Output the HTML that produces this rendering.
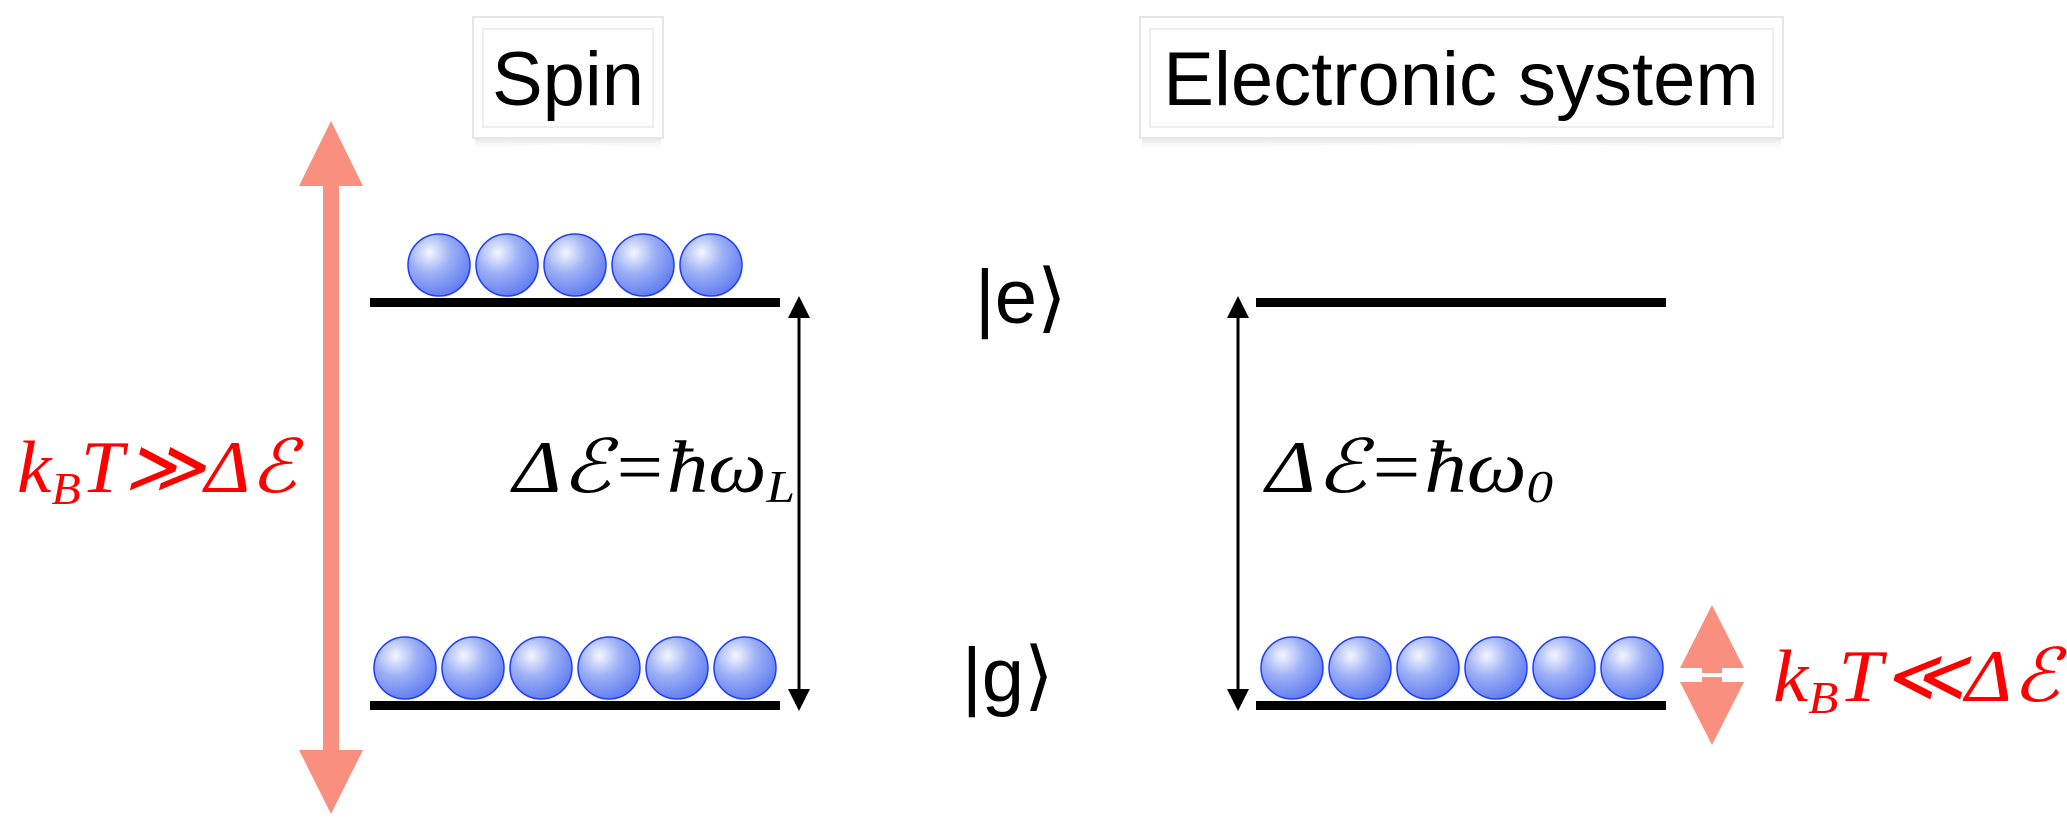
<!DOCTYPE html>
<html><head><meta charset="utf-8"><style>
html,body{margin:0;padding:0;background:#fff;}
svg{display:block;}
.t{font-family:"Liberation Sans",Arial,sans-serif;}
.m{font-family:"Liberation Serif","DejaVu Serif",serif;font-style:italic;}
</style></head><body>
<svg width="2067" height="825" viewBox="0 0 2067 825" xmlns="http://www.w3.org/2000/svg">
<defs>
<radialGradient id="b" cx="0.35" cy="0.3" r="0.75">
<stop offset="0" stop-color="#f4f6ff"/>
<stop offset="0.45" stop-color="#9db0f6"/>
<stop offset="1" stop-color="#5f7bf0"/>
</radialGradient>
<linearGradient id="sh" x1="0" y1="0" x2="0" y2="1">
<stop offset="0" stop-color="#999" stop-opacity="0.8"/>
<stop offset="1" stop-color="#fff" stop-opacity="0"/>
</linearGradient>
<g id="ball"><ellipse rx="31" ry="31" fill="url(#b)" stroke="#1f3cff" stroke-width="1.5"/></g>
</defs>

<path d="M475 136 Q568 118 661 136 L661 152 Q568 136 475 152 Z" fill="url(#sh)"/>
<rect x="473" y="17" width="190" height="121" fill="#fff" stroke="#e6e6e6" stroke-width="2"/>
<rect x="483" y="29" width="170" height="98" fill="#fff" stroke="#e8e8e8" stroke-width="1.5"/>
<text class="t" x="568" y="105" font-size="76" text-anchor="middle">Spin</text>

<path d="M1142 136 Q1461 118 1781 136 L1781 152 Q1461 136 1142 152 Z" fill="url(#sh)"/>
<rect x="1140" y="17" width="643" height="121" fill="#fff" stroke="#e6e6e6" stroke-width="2"/>
<rect x="1150" y="29" width="623" height="98" fill="#fff" stroke="#e8e8e8" stroke-width="1.5"/>
<text class="t" x="1461" y="105" font-size="76" text-anchor="middle">Electronic system</text>

<rect x="323" y="184" width="16" height="568" fill="#f98f7f"/>
<polygon points="331,121 363,186 299,186" fill="#f98f7f"/>
<polygon points="331,814 363,750 299,750" fill="#f98f7f"/>
<text class="m" x="17" y="492" font-size="74" fill="#ff0000" textLength="280" lengthAdjust="spacingAndGlyphs">k<tspan font-size="46" dy="12">B</tspan><tspan dy="-12">T≫Δℰ</tspan></text>

<rect x="370" y="298" width="410" height="9" fill="#000"/>
<rect x="370" y="701" width="410" height="9" fill="#000"/>
<use href="#ball" x="439" y="265"/><use href="#ball" x="507" y="265"/><use href="#ball" x="575" y="265"/><use href="#ball" x="643" y="265"/><use href="#ball" x="711" y="265"/>
<use href="#ball" x="405" y="668"/><use href="#ball" x="473" y="668"/><use href="#ball" x="541" y="668"/><use href="#ball" x="609" y="668"/><use href="#ball" x="677" y="668"/><use href="#ball" x="745" y="668"/>
<line x1="799" y1="312" x2="799" y2="696" stroke="#000" stroke-width="3"/>
<polygon points="799,296 810,318 788,318" fill="#000"/>
<polygon points="799,711 810,689 788,689" fill="#000"/>
<text class="m" x="513" y="492" font-size="74" textLength="282" lengthAdjust="spacingAndGlyphs">Δℰ=ħω<tspan font-size="46" dy="10">L</tspan></text>

<text class="t" x="975" y="323" font-size="76">|e⟩</text>
<text class="t" x="962" y="701" font-size="76">|g⟩</text>

<rect x="1256" y="298" width="410" height="9" fill="#000"/>
<rect x="1256" y="701" width="410" height="9" fill="#000"/>
<line x1="1238" y1="312" x2="1238" y2="696" stroke="#000" stroke-width="3"/>
<polygon points="1238,296 1249,318 1227,318" fill="#000"/>
<polygon points="1238,711 1249,689 1227,689" fill="#000"/>
<text class="m" x="1266" y="492" font-size="74" textLength="287" lengthAdjust="spacingAndGlyphs">Δℰ=ħω<tspan font-size="46" dy="10">0</tspan></text>
<use href="#ball" x="1292" y="668"/><use href="#ball" x="1360" y="668"/><use href="#ball" x="1428" y="668"/><use href="#ball" x="1496" y="668"/><use href="#ball" x="1564" y="668"/><use href="#ball" x="1632" y="668"/>

<polygon points="1712,605 1744,668 1680,668" fill="#f98f7f"/>
<rect x="1702" y="666" width="20" height="18" fill="#f98f7f"/>
<rect x="1690" y="673" width="44" height="4" fill="#fff"/>
<polygon points="1712,745 1744,682 1680,682" fill="#f98f7f"/>
<text class="m" x="1773" y="701" font-size="74" fill="#ff0000" textLength="287" lengthAdjust="spacingAndGlyphs">k<tspan font-size="46" dy="12">B</tspan><tspan dy="-12">T≪Δℰ</tspan></text>
</svg>
</body></html>
